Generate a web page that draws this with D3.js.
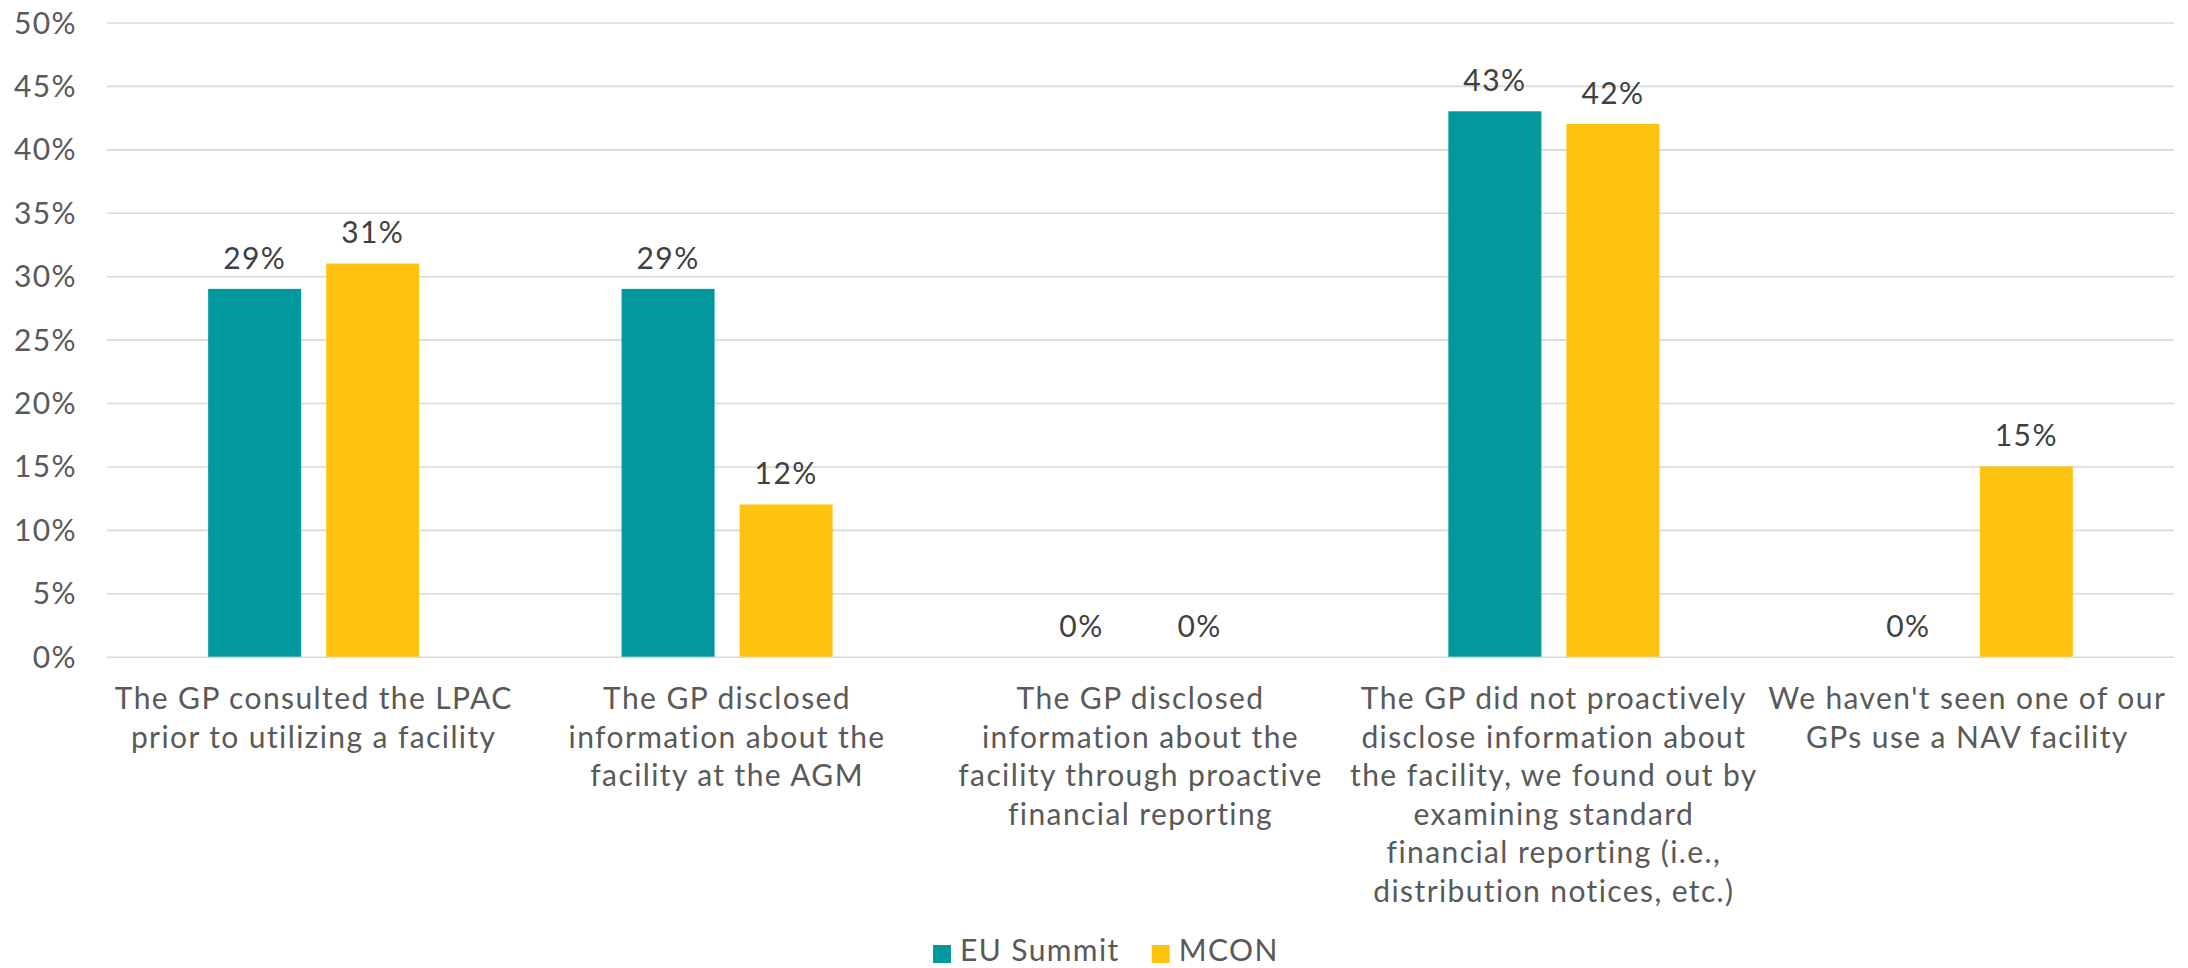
<!DOCTYPE html>
<html>
<head>
<meta charset="utf-8">
<script src="https://cdn.jsdelivr.net/npm/d3@7"></script>
<style>
  html, body { margin: 0; padding: 0; background: #ffffff; }
  svg { display: block; }
  text { font-family: Lato, "Noto Sans", sans-serif; letter-spacing: 1.4px; }
</style>
</head>
<body>
<svg id="chart" width="2188" height="968"></svg>
<script>
// Survey responses: how LPs learned about a GP's NAV facility
const categories = [
  "The GP consulted the LPAC\nprior to utilizing a facility",
  "The GP disclosed\ninformation about the\nfacility at the AGM",
  "The GP disclosed\ninformation about the\nfacility through proactive\nfinancial reporting",
  "The GP did not proactively\ndisclose information about\nthe facility, we found out by\nexamining standard\nfinancial reporting (i.e.,\ndistribution notices, etc.)",
  "We haven't seen one of our\nGPs use a NAV facility"
];
const seriesNames = ["EU Summit", "MCON"];
const euSummit = [29, 29, 0, 43, 0];
const mcon = [31, 12, 0, 42, 15];
const yTicks = [0, 5, 10, 15, 20, 25, 30, 35, 40, 45, 50];
const seriesColors = ["#01989e", "#fec30f"];

const series = [euSummit, mcon];
const W = 2188, H = 968;
const margin = { left: 107, right: 14, top: 22.5, plotBottom: 656.7 };

const svg = d3.select("#chart");

const x = d3.scaleBand()
  .domain(categories)
  .range([margin.left, W - margin.right])
  .paddingInner(0)
  .paddingOuter(0);

const inner = d3.scaleBand()
  .domain(seriesNames)
  .range([0, x.bandwidth()])
  .paddingInner(0.212)
  .paddingOuter(0.857);

const y = d3.scaleLinear()
  .domain([0, 50])
  .range([margin.plotBottom, margin.top]);

// Horizontal gridlines and percentage labels
const yAxis = d3.axisLeft(y)
  .tickValues(yTicks)
  .tickSize(-(W - margin.right - margin.left))
  .tickFormat(d => d + "%");

const gy = svg.append("g")
  .attr("transform", `translate(${margin.left},0)`)
  .call(yAxis);
gy.select(".domain").remove();
gy.selectAll(".tick line")
  .attr("stroke", "#d9d9d9")
  .attr("stroke-width", 1.6);
gy.selectAll(".tick text")
  .attr("x", -30)
  .attr("dy", "0.35em")
  .attr("fill", "#595959")
  .attr("font-size", 30)
  .attr("font-family", "Lato, 'Noto Sans', sans-serif");

// Bars
const groups = svg.append("g").selectAll("g")
  .data(categories)
  .join("g")
  .attr("transform", d => `translate(${x(d)},0)`);

groups.selectAll("rect")
  .data((d, i) => seriesNames.map((s, j) => ({ s, v: series[j][i], j })))
  .join("rect")
  .attr("x", d => inner(d.s))
  .attr("width", inner.bandwidth())
  .attr("y", d => y(d.v))
  .attr("height", d => y(0) - y(d.v))
  .attr("fill", d => seriesColors[d.j]);

// Value labels above each bar
groups.selectAll("text.value")
  .data((d, i) => seriesNames.map((s, j) => ({ s, v: series[j][i], j })))
  .join("text")
  .attr("class", "value")
  .attr("x", d => inner(d.s) + inner.bandwidth() / 2)
  .attr("y", d => y(d.v) - 20)
  .attr("text-anchor", "middle")
  .attr("fill", "#404040")
  .attr("font-size", 30)
  .text(d => d.v + "%");

// Category labels, one line per tspan
const xLabels = svg.append("g").selectAll("text")
  .data(categories)
  .join("text")
  .attr("x", d => x(d) + x.bandwidth() / 2)
  .attr("y", 709)
  .attr("text-anchor", "middle")
  .attr("fill", "#595959")
  .attr("font-size", 30);

xLabels.selectAll("tspan")
  .data(d => d.split("\n"))
  .join("tspan")
  .attr("x", function () { return d3.select(this.parentNode).attr("x"); })
  .attr("dy", (d, i) => i === 0 ? 0 : 38.6)
  .text(d => d);

// Legend
const legend = svg.append("g");
let lx = 933;
seriesNames.forEach((name, j) => {
  legend.append("rect")
    .attr("x", lx).attr("y", 945)
    .attr("width", 18).attr("height", 18)
    .attr("fill", seriesColors[j]);
  const t = legend.append("text")
    .attr("x", lx + 27).attr("y", 961)
    .attr("fill", "#595959")
    .attr("font-size", 30)
    .text(name);
  lx += 27 + t.node().getComputedTextLength() + 32;
});
</script>
</body>
</html>
